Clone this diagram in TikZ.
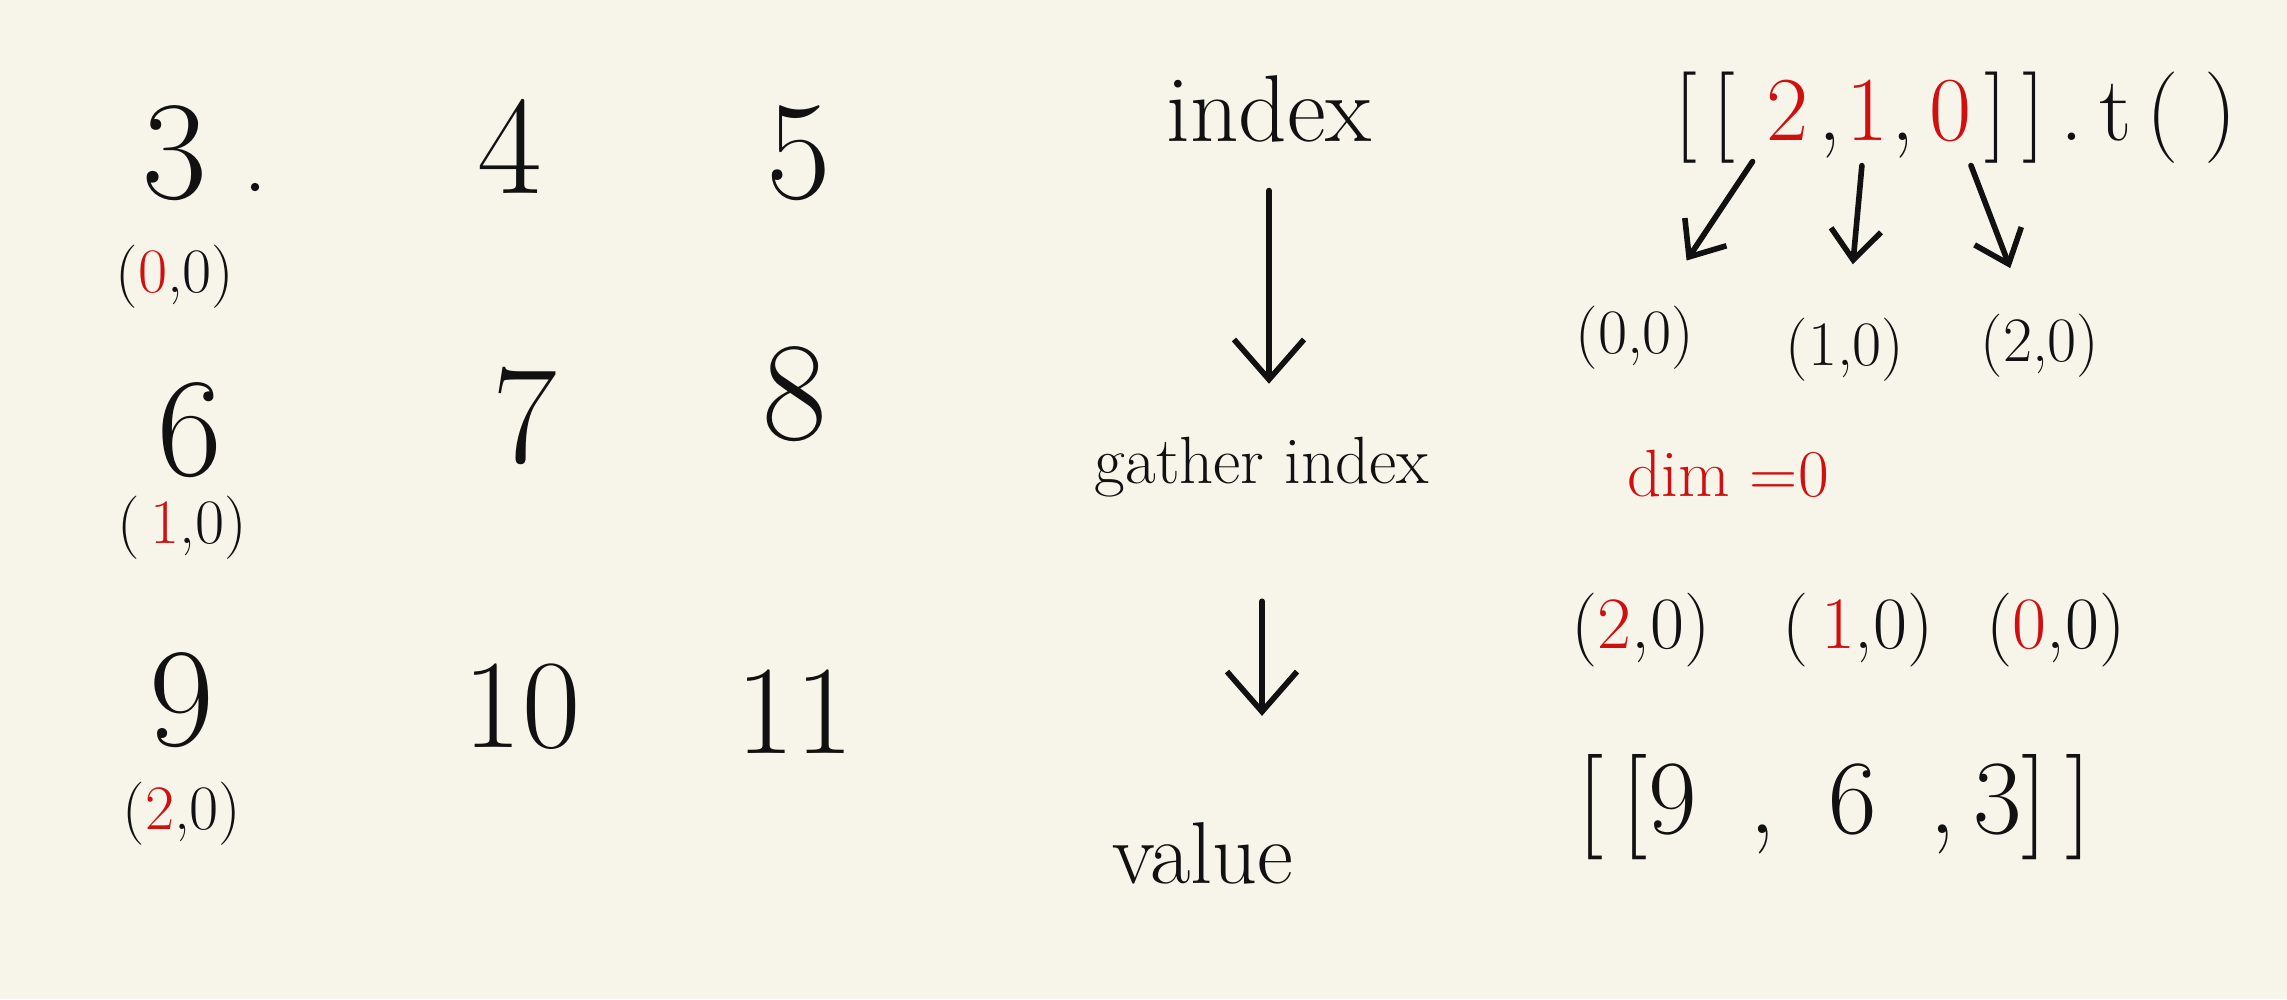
\documentclass[tikz,border=0pt]{standalone}
\usepackage{fontspec}
\usepackage{xcolor}
\usepackage{tikz}
\usetikzlibrary{arrows.meta,positioning}
\definecolor{PaperCream}{RGB}{247,245,234}
\definecolor{InkRed}{RGB}{208,16,16}
\definecolor{InkBlack}{RGB}{17,17,17}

\begin{document}
\begin{tikzpicture}[
  x=0.01cm, y=-0.01cm,
  digit/.style={font=\fontsize{40}{40}\selectfont, text=InkBlack, inner sep=0pt},
  idxpair/.style={font=\fontsize{18}{18}\selectfont, text=InkBlack, inner sep=1pt},
  word/.style={font=\fontsize{26}{26}\selectfont, text=InkBlack, inner sep=1pt},
  expr/.style={font=\fontsize{26}{26}\selectfont, text=InkBlack, inner sep=0pt, anchor=base},
  arrow/.style={-{Straight Barb[length=0.4cm, width=0.7cm]}, line width=1.6pt, InkBlack, line cap=round},
  small arrow/.style={arrow, -{Straight Barb[length=0.3cm, width=0.5cm]}}
]
\fill[PaperCream] (0,0) rectangle (2287,999);
\node[digit] (n3) at (175,153) {3};
\node[digit] (n4) at (510,146) {4};
\node[digit] (n5) at (799,153) {5};
\node[digit] (n6) at (190,430) {6};
\node[digit] (n7) at (525,416) {7};
\node[digit] (n8) at (795,394) {8};
\node[digit] (n9) at (182,700) {9};
\node[digit, font=\fontsize{36}{36}\selectfont] (n10) at (522,707) {10};
\node[digit, font=\fontsize{36}{36}\selectfont] (n11) at (795,712) {11};
\fill[InkBlack] (255,187) circle (1.2pt);
\node[idxpair] (p00) at (175,277) {(\textcolor{InkRed}{0},0)};
\node[idxpair] (p10) at (182,528) {(\,\textcolor{InkRed}{1},0)};
\node[idxpair] (p20) at (182,814) {(\textcolor{InkRed}{2},0)};
\node[word, font=\fontsize{27}{27}\selectfont] (idx) at (1269,109) {index};
\node[word, font=\fontsize{19}{19}\selectfont] (gidx) at (1262,467) {gather index};
\node[word, font=\fontsize{25}{25}\selectfont] (val) at (1203,853) {value};
\draw[arrow, shorten <=0.44cm, shorten >=0.49cm] (idx.south) -- (idx.south |- gidx.north);
\draw[arrow, shorten <=1cm, shorten >=1.02cm] (gidx.south) -- (gidx.south |- val.north);
\node[expr] (lbr) at (1705,140) {[\,[};
\node[expr, text=InkRed] (e2) at (1787,140) {2};
\node[expr] (ca) at (1830,140) {,};
\node[expr, text=InkRed] (e1) at (1867,140) {1};
\node[expr] (cb) at (1903,140) {,};
\node[expr, text=InkRed] (e0) at (1950,140) {0};
\node[expr, anchor=base west] (tail) at (1984,140) {]\,]\,.\,t\,(\;)};
\node[idxpair] (c00) at (1635,338) {(0,0)};
\node[idxpair] (c10) at (1845,350) {(1,0)};
\node[idxpair] (c20) at (2040,346) {(2,0)};
\draw[small arrow, shorten <=0.25cm, shorten >=0.5cm] (e2) -- (c00);
\draw[small arrow, shorten <=0.25cm, shorten >=0.5cm] (e1) -- (c10);
\draw[small arrow, shorten <=0.25cm, shorten >=0.45cm] (e0) -- (c20);
\node[word, text=InkRed, font=\fontsize{19}{19}\selectfont] (dim) at (1728,474) {dim =0};
\node[idxpair, font=\fontsize{21}{21}\selectfont] (g20) at (1641,630) {(\textcolor{InkRed}{2},0)};
\node[idxpair, font=\fontsize{21}{21}\selectfont] (g10) at (1858,630) {(\,\textcolor{InkRed}{1},0)};
\node[idxpair, font=\fontsize{21}{21}\selectfont] (g00) at (2056,630) {(\textcolor{InkRed}{0},0)};
\node[word, font=\fontsize{30}{30}\selectfont] (res) at (1835,807) {[\,[9\enspace,\enspace6\enspace,\,3]\,]};
\end{tikzpicture}
\end{document}
